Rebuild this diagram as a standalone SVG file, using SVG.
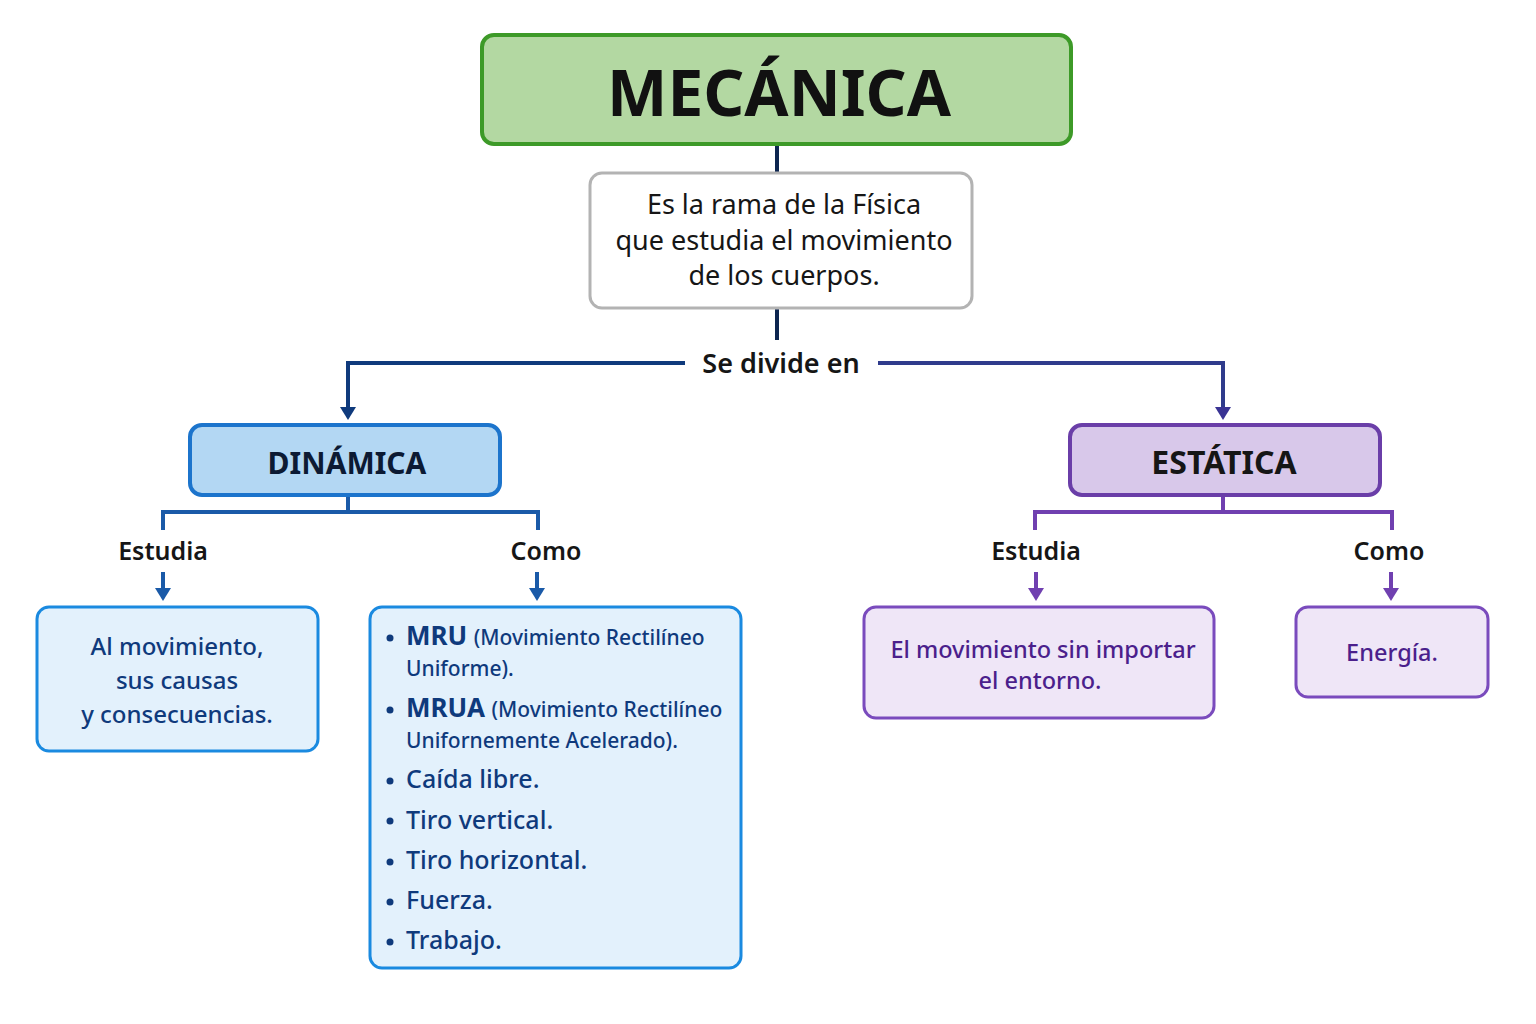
<svg xmlns="http://www.w3.org/2000/svg" width="1536" height="1024" viewBox="0 0 1536 1024">
<defs>
<style>
text{font-family:"Noto Sans","Open Sans","Liberation Sans",sans-serif;}
.box{stroke-width:3}
.lbl{font-size:25px;font-weight:600;fill:#161616;text-anchor:middle}
.bl{font-size:24px;font-weight:500;fill:#0f3a7c;text-anchor:middle}
.pl{font-size:23.5px;font-weight:500;fill:#4b1f8c;text-anchor:middle}
.li{font-size:25px;font-weight:500;fill:#0f3a7c}
.sm{font-size:21px;font-weight:500}
.b{font-weight:700;font-size:26px}
.cn{fill:none;stroke-width:4}
</style>
</defs>
<rect width="1536" height="1024" fill="#ffffff"/>

<g id="connectors">
<line x1="777" y1="144" x2="777" y2="173" stroke="#0d2550" stroke-width="4"/>
<line x1="777" y1="309" x2="777" y2="340" stroke="#0d2550" stroke-width="4"/>
<polyline points="685,363 348,363 348,408" fill="none" stroke="#0f3a7c" stroke-width="4"/>
<polygon points="340,407 356,407 348,420" fill="#0f3a7c"/>
<polyline points="878,363 1223,363 1223,408" fill="none" stroke="#2f3b8c" stroke-width="4"/>
<polygon points="1215,407 1231,407 1223,420" fill="#3a3494"/>

<polyline points="163,530 163,512 538,512 538,530" class="cn" stroke="#1a5aa8"/>
<line x1="348" y1="495" x2="348" y2="512" stroke="#1a5aa8" stroke-width="4"/>
<line x1="163" y1="572" x2="163" y2="590" stroke="#1a5aa8" stroke-width="4"/>
<polygon points="155,588 171,588 163,601" fill="#1a5aa8"/>
<line x1="537" y1="572" x2="537" y2="590" stroke="#1a5aa8" stroke-width="4"/>
<polygon points="529,588 545,588 537,601" fill="#1a5aa8"/>

<polyline points="1035,530 1035,512 1392,512 1392,530" class="cn" stroke="#7040b0"/>
<line x1="1223" y1="495" x2="1223" y2="512" stroke="#7040b0" stroke-width="4"/>
<line x1="1036" y1="572" x2="1036" y2="590" stroke="#7040b0" stroke-width="4"/>
<polygon points="1028,588 1044,588 1036,601" fill="#7040b0"/>
<line x1="1391" y1="572" x2="1391" y2="590" stroke="#7040b0" stroke-width="4"/>
<polygon points="1383,588 1399,588 1391,601" fill="#7040b0"/>

<text x="781" y="373" class="lbl" style="font-size:27px">Se divide en</text>
<text x="163" y="560" class="lbl">Estudia</text>
<text x="546" y="560" class="lbl">Como</text>
<text x="1036" y="560" class="lbl">Estudia</text>
<text x="1389" y="560" class="lbl">Como</text>
</g>

<g id="mecanica">
<rect x="482" y="35" width="589" height="109" rx="12" fill="#b3d8a2" stroke="#3d9a28" stroke-width="4"/>
<text x="779" y="116" text-anchor="middle" font-size="64" font-weight="700" fill="#111">MECÁNICA</text>
</g>

<g id="definicion">
<rect x="590" y="173" width="382" height="135" rx="12" fill="#ffffff" stroke="#b3b3b3" stroke-width="3"/>
<text x="784" y="214" text-anchor="middle" font-size="27" fill="#161616">Es la rama de la Física</text>
<text x="784" y="250" text-anchor="middle" font-size="27" fill="#161616">que estudia el movimiento</text>
<text x="784" y="285" text-anchor="middle" font-size="27" fill="#161616">de los cuerpos.</text>
</g>

<g id="dinamica">
<rect x="190" y="425" width="310" height="70" rx="12" fill="#b3d7f3" stroke="#1c74cc" stroke-width="4"/>
<text x="347" y="474" text-anchor="middle" font-size="30" font-weight="700" fill="#0c1a33">DINÁMICA</text>
</g>

<g id="estatica">
<rect x="1070" y="425" width="310" height="70" rx="12" fill="#d8c8ea" stroke="#6a3ea8" stroke-width="4"/>
<text x="1224" y="474" text-anchor="middle" font-size="32" font-weight="700" fill="#161616">ESTÁTICA</text>
</g>

<g id="din-estudia">
<rect x="37" y="607" width="281" height="144" rx="12" fill="#e3f1fc" stroke="#1a8ae0" class="box"/>
<text x="177" y="655" class="bl">Al movimiento,</text>
<text x="177" y="689" class="bl">sus causas</text>
<text x="177" y="723" class="bl">y consecuencias.</text>
</g>

<g id="din-como">
<rect x="370" y="607" width="371" height="361" rx="12" fill="#e3f1fc" stroke="#1a8ae0" class="box"/>
<g fill="#0f3a7c">
<circle cx="390" cy="638" r="3.5"/>
<circle cx="390" cy="710" r="3.5"/>
<circle cx="390" cy="781" r="3.5"/>
<circle cx="390" cy="821" r="3.5"/>
<circle cx="390" cy="862" r="3.5"/>
<circle cx="390" cy="902" r="3.5"/>
<circle cx="390" cy="942" r="3.5"/>
</g>
<text x="406" y="645" class="li"><tspan class="b">MRU</tspan> <tspan class="sm">(Movimiento Rectilíneo</tspan></text>
<text x="406" y="676" class="li sm">Uniforme).</text>
<text x="406" y="717" class="li"><tspan class="b">MRUA</tspan> <tspan class="sm">(Movimiento Rectilíneo</tspan></text>
<text x="406" y="748" class="li sm">Unifornemente Acelerado).</text>
<text x="406" y="788" class="li">Caída libre.</text>
<text x="406" y="829" class="li">Tiro vertical.</text>
<text x="406" y="869" class="li">Tiro horizontal.</text>
<text x="406" y="909" class="li">Fuerza.</text>
<text x="406" y="949" class="li">Trabajo.</text>
</g>

<g id="est-estudia">
<rect x="864" y="607" width="350" height="111" rx="12" fill="#efe6f7" stroke="#7a4bbd" class="box"/>
<text x="1043" y="658" class="pl">El movimiento sin importar</text>
<text x="1040" y="689" class="pl">el entorno.</text>
</g>

<g id="est-como">
<rect x="1296" y="607" width="192" height="90" rx="12" fill="#efe6f7" stroke="#7a4bbd" class="box"/>
<text x="1392" y="661" class="pl">Energía.</text>
</g>
</svg>
